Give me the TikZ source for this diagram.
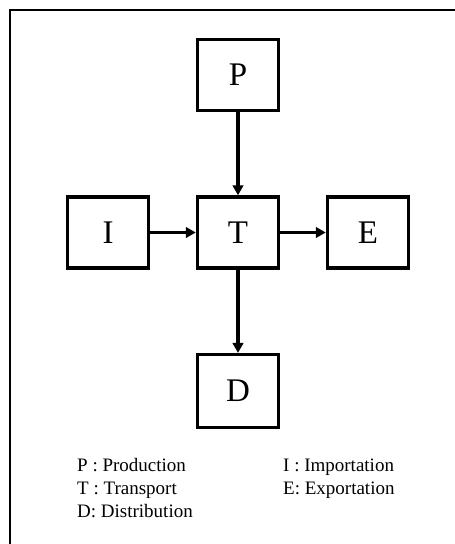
\documentclass[tikz,border=0pt]{standalone}
\usepackage{fontspec}
\setmainfont{Liberation Serif}
\usetikzlibrary{arrows.meta}
\begin{document}
\begin{tikzpicture}[x=1pt,y=-1pt,
  lbox/.style={draw,line width=3.4pt,minimum width=81pt,minimum height=71pt,inner sep=0pt,font=\fontsize{33}{36}\selectfont},
  flow/.style={line width=3.4pt,-{Triangle[length=10pt,width=10.5pt]}},
  legend/.style={anchor=base west,inner sep=0pt,font=\fontsize{19}{22}\selectfont}]
\useasboundingbox (0,0) rectangle (455,544);
\coordinate (bl) at (10,545);
\coordinate (tl) at (10,10);
\coordinate (tr) at (456,10);
\draw[line width=2.4pt] (bl) -- (tl) -- (tr);
\node[lbox] (P) at (238,75) {P};
\node[lbox] (T) at (238,232.5) {T};
\node[lbox] (I) at (108,232.5) {I};
\node[lbox] (E) at (368,232.5) {E};
\node[lbox,minimum height=72.7pt] (D) at (238,391) {D};
\draw[flow] (P) -- (T);
\draw[flow] (I) -- (T);
\draw[flow] (T) -- (E);
\draw[flow] (T) -- (D);
\node[legend] (lp) at (77,471.7) {P : Production};
\node[legend] (lt) at (77,494.5) {T : Transport};
\node[legend] (ld) at (77,517.5) {D: Distribution};
\node[legend] (li) at (283,471.7) {I : Importation};
\node[legend] (le) at (283,494.5) {E: Exportation};
\end{tikzpicture}
\end{document}
